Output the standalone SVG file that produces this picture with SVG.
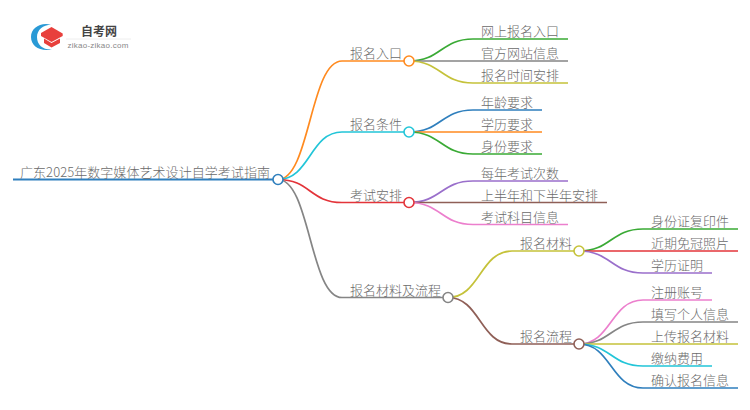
<svg xmlns="http://www.w3.org/2000/svg" width="750" height="410" viewBox="0 0 750 410">
<style>
text{font-family:"Noto Sans CJK SC","Noto Sans",sans-serif;font-size:13px;fill:#6b6b6b;font-weight:300}
.c path,.c line{fill:none;stroke-width:1.7}
circle{fill:#fff;stroke-width:1.6}
</style>
<rect width="750" height="410" fill="#fff"/>
<g id="logo">
<path d="M51 24.500C40 22 31 28 31 37C31 46 40 52 52 49.500C43 50 37 45 37 37C37 30 43 25 51 24.500Z" fill="#2a9ad6"/>
<path d="M51.500 27L62.700 33.500V36L51.500 42L41 36V33Z" fill="#e8403c"/>
<path d="M44 38.500L51.500 43L60 38.500V43L51.500 47.500L44 43Z" fill="#e8403c"/>
<text x="81" y="35.500" style="font-size:12px;font-weight:700;fill:#444">自考网</text>
<line x1="66" y1="39" x2="131" y2="39" stroke="#eee"/>
<text x="67.500" y="48" style="font-family:'Liberation Sans',sans-serif;font-size:8px;fill:#888;letter-spacing:.25px">zikao-zikao.com</text>
</g>
<g class="c" id="connectors">
<line x1="13" y1="179.500" x2="278" y2="179.500" stroke="#2f7fbd" style="stroke-width:2"/>
<path d="M278 179.500C310 179.500 310 61 342 61H409" stroke="#ff8a1f"/>
<path d="M278 179.500C310 179.500 310 132 342 132H409" stroke="#22c5d8"/>
<path d="M278 179.500C310 179.500 310 202.500 342 202.500H409" stroke="#e3343a"/>
<path d="M278 179.500C310 179.500 310 297.500 342 297.500H448" stroke="#858585"/>
<path d="M409 61C441 61 441 39 473 39H568" stroke="#3aaa35"/>
<path d="M409 61H568" stroke="#858585"/>
<path d="M409 61C441 61 441 83 473 83H568" stroke="#c5c23a"/>
<path d="M409 132C441 132 441 110 473 110H542" stroke="#2f7fbd"/>
<path d="M409 132H542" stroke="#ff8a1f"/>
<path d="M409 132C441 132 441 154 473 154H542" stroke="#3aaa35"/>
<path d="M409 202.500C441 202.500 441 181 473 181H568" stroke="#9a6fcb"/>
<path d="M409 202.500H607" stroke="#8f5f57"/>
<path d="M409 202.500C441 202.500 441 224.500 473 224.500H568" stroke="#ec7fcd"/>
<path d="M448 297.500C480 297.500 480 251 512 251H579" stroke="#c5c23a"/>
<path d="M448 297.500C480 297.500 480 344 512 344H579" stroke="#8f5f57"/>
<path d="M579 251C611 251 611 229 643 229H738" stroke="#3aaa35"/>
<path d="M579 251H738" stroke="#e3343a"/>
<path d="M579 251C611 251 611 273 643 273H712" stroke="#9a6fcb"/>
<path d="M579 344C611 344 611 300 643 300H712" stroke="#ec7fcd"/>
<path d="M579 344C611 344 611 322 643 322H738" stroke="#858585"/>
<path d="M579 344H738" stroke="#c5c23a"/>
<path d="M579 344C611 344 611 366 643 366H712" stroke="#22c5d8"/>
<path d="M579 344C611 344 611 388 643 388H738" stroke="#2f7fbd"/>
</g>
<g id="root"><text x="20" y="176.500" textLength="250">广东2025年数字媒体艺术设计自学考试指南</text><circle cx="278" cy="179.500" r="5" stroke="#2f7fbd"/></g>
<g id="n1"><text x="350" y="58">报名入口</text><circle cx="409" cy="61" r="5" stroke="#ff8a1f"/></g>
<g id="n2"><text x="350" y="129">报名条件</text><circle cx="409" cy="132" r="5" stroke="#22c5d8"/></g>
<g id="n3"><text x="350" y="199.500">考试安排</text><circle cx="409" cy="202.500" r="5" stroke="#e3343a"/></g>
<g id="n4"><text x="350" y="294.500">报名材料及流程</text><circle cx="448" cy="297.500" r="5" stroke="#858585"/></g>
<g id="n11"><text x="481" y="36">网上报名入口</text></g>
<g id="n12"><text x="481" y="58">官方网站信息</text></g>
<g id="n13"><text x="481" y="80">报名时间安排</text></g>
<g id="n21"><text x="481" y="107">年龄要求</text></g>
<g id="n22"><text x="481" y="129">学历要求</text></g>
<g id="n23"><text x="481" y="151">身份要求</text></g>
<g id="n31"><text x="481" y="178">每年考试次数</text></g>
<g id="n32"><text x="481" y="199.500">上半年和下半年安排</text></g>
<g id="n33"><text x="481" y="221.500">考试科目信息</text></g>
<g id="n41"><text x="520" y="248">报名材料</text><circle cx="579" cy="251" r="5" stroke="#c5c23a"/></g>
<g id="n42"><text x="520" y="341">报名流程</text><circle cx="579" cy="344" r="5" stroke="#8f5f57"/></g>
<g id="n411"><text x="651" y="226">身份证复印件</text></g>
<g id="n412"><text x="651" y="248">近期免冠照片</text></g>
<g id="n413"><text x="651" y="270">学历证明</text></g>
<g id="n421"><text x="651" y="297">注册账号</text></g>
<g id="n422"><text x="651" y="319">填写个人信息</text></g>
<g id="n423"><text x="651" y="341">上传报名材料</text></g>
<g id="n424"><text x="651" y="363">缴纳费用</text></g>
<g id="n425"><text x="651" y="385">确认报名信息</text></g>
</svg>
